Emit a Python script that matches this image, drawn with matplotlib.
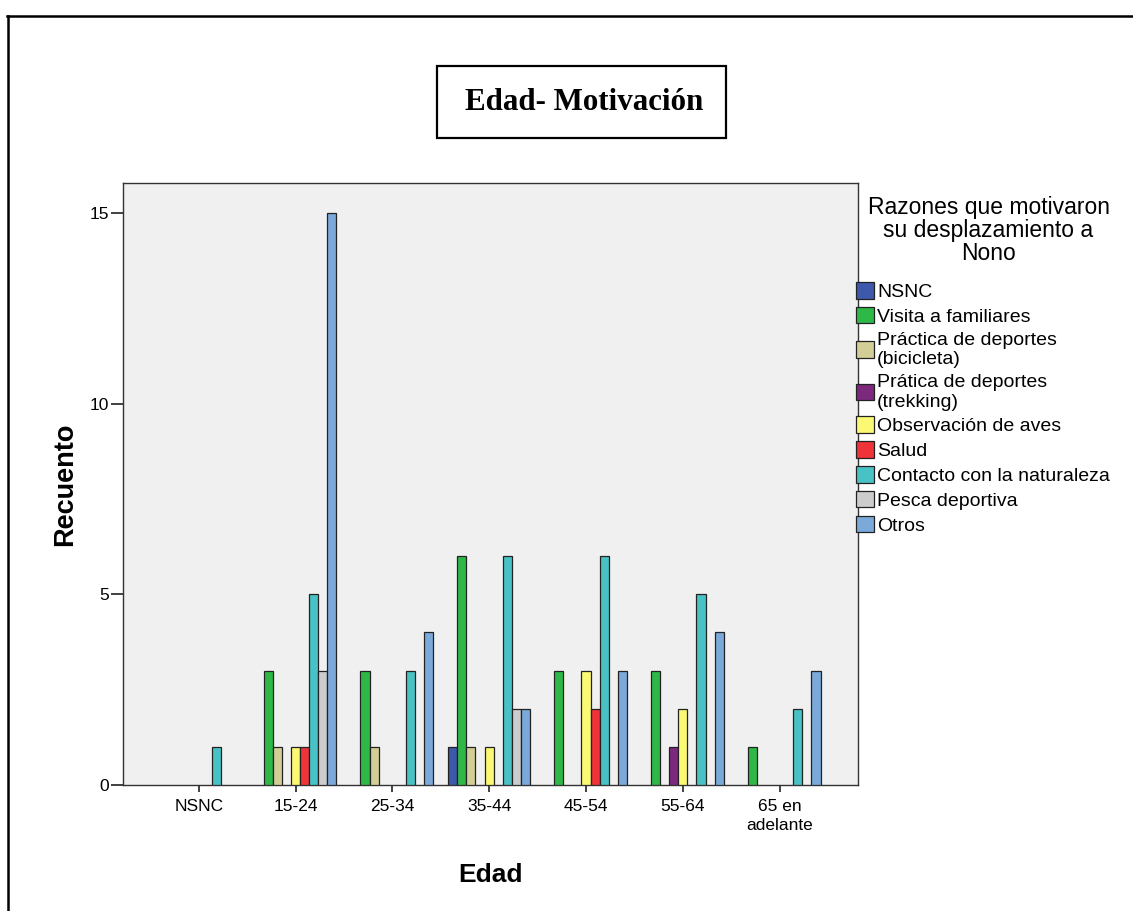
import numpy as np
import matplotlib
matplotlib.use('Agg')
import matplotlib.pyplot as plt
from matplotlib.patches import Rectangle
from matplotlib.lines import Line2D

plt.rcParams['font.family'] = ['Liberation Sans', 'DejaVu Sans']

edades = ['NSNC', '15-24', '25-34', '35-44', '45-54', '55-64', '65 en\nadelante']
razones = ['NSNC', 'Visita a familiares', 'Práctica de deportes\n(bicicleta)',
           'Prática de deportes\n(trekking)', 'Observación de aves', 'Salud',
           'Contacto con la naturaleza', 'Pesca deportiva', 'Otros']
colores = ['#3E58AC', '#2EB848', '#D3CE97', '#7C287D', '#FBF873',
           '#EF3338', '#48C2C5', '#CCCCCC', '#7AA9DA']

# recuento por razon, en el orden de las edades
nsnc      = [0, 0, 0, 1, 0, 0, 0]
visita    = [0, 3, 3, 6, 3, 3, 1]
bicicleta = [0, 1, 1, 1, 0, 0, 0]
trekking  = [0, 0, 0, 0, 0, 1, 0]
aves      = [0, 1, 0, 1, 3, 2, 0]
salud     = [0, 1, 0, 0, 2, 0, 0]
contacto  = [1, 5, 3, 6, 6, 5, 2]
pesca     = [0, 3, 0, 2, 0, 0, 0]
otros     = [0, 15, 4, 2, 3, 4, 3]
series = [nsnc, visita, bicicleta, trekking, aves, salud, contacto, pesca, otros]

W, H = 1133, 911
fig = plt.figure(figsize=(W/100, H/100), dpi=100)
ax = fig.add_axes([123/W, 1 - 785/H, (858-123)/W, (785-183)/H])
ax.set_facecolor('#F0F0F0')

x = np.arange(len(edades))
w = 0.094
for j, (vals, lab, col) in enumerate(zip(series, razones, colores)):
    v = np.array(vals, dtype=float)
    m = v > 0
    ax.bar(x[m] + (j-4)*w, v[m], width=w, color=col, edgecolor='#222222',
           linewidth=0.9, label=lab, zorder=3)

ax.set_xlim(-0.782, 6.81)
ax.set_ylim(0, 15.79)
ax.set_xticks(x)
ax.set_xticklabels(edades, fontsize=12.5, linespacing=1.35)
ax.set_yticks([0, 5, 10, 15])
ax.tick_params(axis='x', length=5, width=1.3, pad=5, color='#333333')
ax.tick_params(axis='y', length=9, width=1.3, pad=1, color='#333333', labelsize=12.5)
for s in ax.spines.values():
    s.set_color('#333333')
    s.set_linewidth(1.0)

ax.set_xlabel('Edad', fontsize=19, fontweight='bold', va='center')
ax.xaxis.set_label_coords(0.5, -0.1495)
ax.set_ylabel('Recuento', fontsize=19.5, fontweight='bold', va='center')
ax.yaxis.set_label_coords(-0.079, 0.5)

# leyenda
fig.text(988.5/W, 1 - 196/H, 'Razones que motivaron\nsu desplazamiento a\nNono',
         ha='center', va='top', fontsize=16.5, linespacing=1.0, multialignment='center')
ax.legend(loc='upper left', bbox_to_anchor=(856/W, 1 - 282/H), bbox_transform=fig.transFigure,
          frameon=False, fontsize=14, borderpad=0, borderaxespad=0,
          handlelength=0.93, handleheight=0.93, handletextpad=0.15, labelspacing=0.3)

# titulo en recuadro
fig.patches.append(Rectangle((437/W, 1 - 138/H), 289/W, 72/H, transform=fig.transFigure,
                             fill=False, edgecolor='black', linewidth=1.6))
fig.text(584/W, 1 - 110/H, 'Edad- Motivación', ha='center', va='baseline',
         fontsize=22.3, fontweight='bold', family='Liberation Serif')

# marco exterior
fig.lines.append(Line2D([7/W, 1], [1 - 15.5/H, 1 - 15.5/H], transform=fig.transFigure,
                        color='black', linewidth=1.8))
fig.lines.append(Line2D([7.5/W, 7.5/W], [0, 1 - 15.5/H], transform=fig.transFigure,
                        color='black', linewidth=1.8))

fig.savefig('out.png', dpi=100)
